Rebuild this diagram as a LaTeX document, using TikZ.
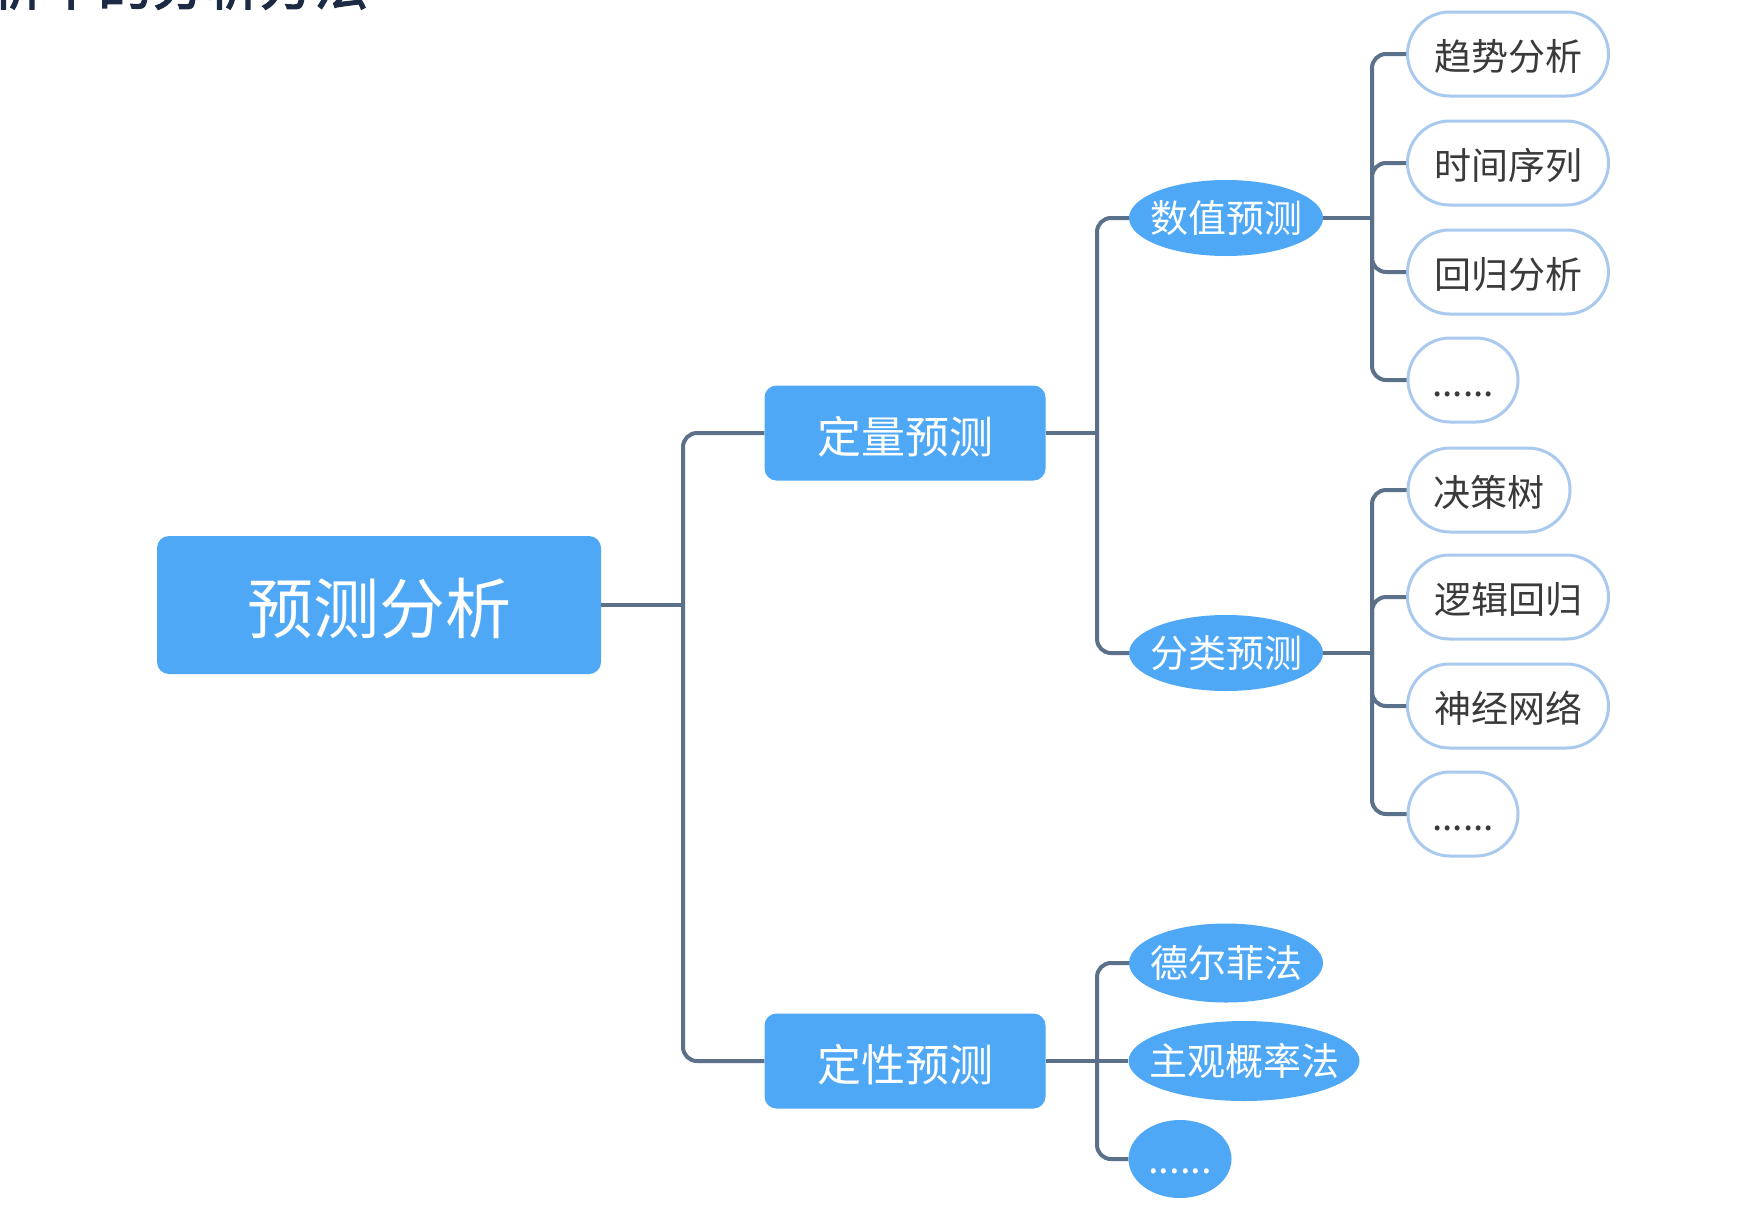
\documentclass[tikz,border=0pt]{standalone}
\usepackage{fontspec}
\newfontfamily\cjk{Noto Sans CJK SC}
\newfontfamily\cjkb[FakeBold=2.5]{Noto Sans CJK SC}
\usetikzlibrary{shapes.geometric}
\definecolor{nodeblue}{HTML}{4EA8F6}
\definecolor{conncol}{HTML}{5B7189}
\definecolor{leafedge}{HTML}{A9C9EE}
\definecolor{leaftext}{HTML}{3A3A3A}
\definecolor{titlecol}{HTML}{1C2A44}
\begin{document}
\begin{tikzpicture}[x=1pt,y=-1pt,
  bluebox/.style={rectangle, rounded corners=12pt, fill=nodeblue, text=white, inner sep=0pt, text height=46pt, text depth=6pt, font=\cjk\fontsize{44}{48}\selectfont},
  blueell/.style={ellipse, fill=nodeblue, text=white, inner xsep=-8pt, inner ysep=0pt, text height=35pt, text depth=6pt, font=\cjk\fontsize{38}{42}\selectfont},
  leaf/.style={rectangle, rounded corners=42pt, draw=leafedge, line width=3pt, fill=white, text=leaftext, inner sep=0pt, minimum height=84pt, text height=38pt, text depth=6pt, font=\cjk\fontsize{37}{40}\selectfont},
  link/.style={draw=conncol, line width=4pt},
  elbow/.style={link, rounded corners=14pt}]
\useasboundingbox (0,0) rectangle (1761,1208);
\clip (0,0) rectangle (1761,1208);
\fill[white] (0,0) rectangle (1761,1208);

% cut-off title
\node[anchor=base west, inner sep=0pt, text=titlecol, font=\cjkb\fontsize{54}{58}\selectfont] (title) at (-10,5) {析中的分析方法};

% nodes
\node[bluebox, minimum width=444pt, minimum height=138pt, text height=66pt, text depth=9pt, font=\cjk\fontsize{66}{70}\selectfont] (root) at (379,605) {预测分析};
\node[bluebox, minimum width=281pt, minimum height=95pt] (lh) at (905,433) {定量预测};
\node[bluebox, minimum width=281pt, minimum height=95pt] (lx) at (905,1061) {定性预测};

\node[blueell, minimum width=194pt, minimum height=76pt] (sz) at (1226,218) {数值预测};
\node[blueell, minimum width=194pt, minimum height=76pt] (fl) at (1226,653) {分类预测};

\node[leaf, minimum width=201pt] (a1) at (1508,54) {趋势分析};
\node[leaf, minimum width=201pt] (a2) at (1508,163) {时间序列};
\node[leaf, minimum width=201pt] (a3) at (1508,272) {回归分析};
\node[leaf, minimum width=110pt] (a4) at (1463,380) {......};

\node[leaf, minimum width=162pt] (b1) at (1489,490) {决策树};
\node[leaf, minimum width=201pt] (b2) at (1508,597) {逻辑回归};
\node[leaf, minimum width=201pt] (b3) at (1508,706) {神经网络};
\node[leaf, minimum width=110pt] (b4) at (1463,814) {......};

\node[blueell, minimum width=194pt, minimum height=79pt] (c1) at (1226,963) {德尔菲法};
\node[blueell, inner xsep=-14pt, minimum width=231pt, minimum height=80pt] (c2) at (1244,1061) {主观概率法};
\node[blueell, minimum width=103pt, minimum height=78pt] (c3) at (1180,1159) {......};

% junctions
\coordinate (j0) at (683,605);
\coordinate (j1) at (1097,433);
\coordinate (j2) at (1372,218);
\coordinate (j3) at (1372,653);
\coordinate (j4) at (1097,1061);

% connectors
\draw[link] (root.east) -- (j0);
\draw[elbow] (j0) |- (lh.west);
\draw[elbow] (j0) |- (lx.west);

\draw[link] (lh.east) -- (j1);
\draw[elbow] (j1) |- (sz.west);
\draw[elbow] (j1) |- (fl.west);

\draw[link] (sz.east) -- (j2);
\draw[elbow] (j2) |- (a1.west);
\draw[elbow] (j2) |- (a2.west);
\draw[elbow] (j2) |- (a3.west);
\draw[elbow] (j2) |- (a4.west);

\draw[link] (fl.east) -- (j3);
\draw[elbow] (j3) |- (b1.west);
\draw[elbow] (j3) |- (b2.west);
\draw[elbow] (j3) |- (b3.west);
\draw[elbow] (j3) |- (b4.west);

\draw[link] (lx.east) -- (j4);
\draw[elbow] (j4) |- (c1.west);
\draw[link] (j4) -- (c2.west);
\draw[elbow] (j4) |- (c3.west);
\end{tikzpicture}
\end{document}
